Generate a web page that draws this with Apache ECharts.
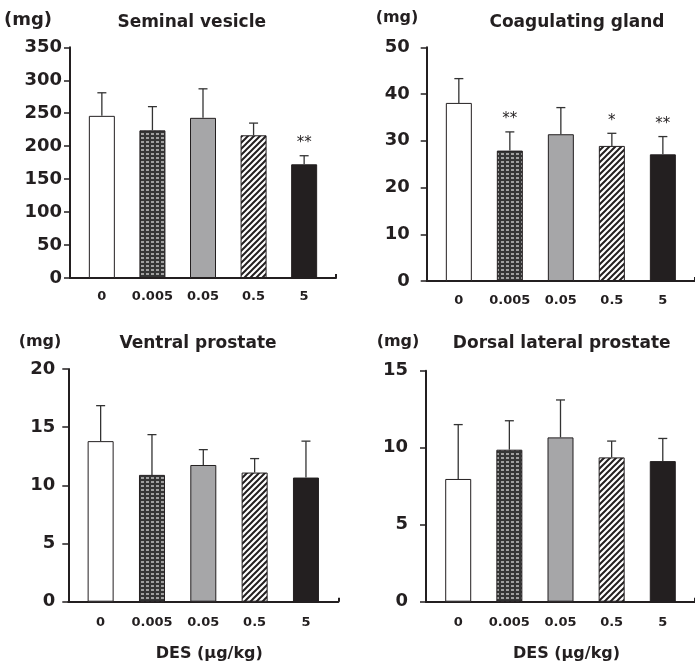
<!DOCTYPE html>
<html><head><meta charset="utf-8">
<script src="https://cdn.jsdelivr.net/npm/echarts@6/dist/echarts.min.js"></script>
<style>html,body{margin:0;padding:0;background:#fff}#c{width:695px;height:668px}</style>
</head><body><div id="c"></div><script>
// ---- data ----
const doses = ['0', '0.005', '0.05', '0.5', '5'];
const svMean = [246, 224, 243, 216.5, 172.5];
const svErr  = [35, 36, 44, 18.5, 13];
const svSig  = ['', '', '', '', '**'];
const cgMean = [38.1, 27.9, 31.4, 28.9, 27.1];
const cgErr  = [5.2, 4.0, 5.7, 2.7, 3.8];
const cgSig  = ['', '**', '', '*', '**'];
const vpMean = [13.8, 10.9, 11.75, 11.1, 10.67];
const vpErr  = [3.05, 3.46, 1.32, 1.2, 3.13];
const vpSig  = ['', '', '', '', ''];
const dlpMean = [7.97, 9.87, 10.67, 9.37, 9.13];
const dlpErr  = [3.53, 1.88, 2.43, 1.06, 1.47];
const dlpSig  = ['', '', '', '', ''];
const yTicks = {sv: [0, 350, 50], cg: [0, 50, 10], vp: [0, 20, 5], dlp: [0, 15, 5]};
const titles = ['Seminal vesicle', 'Coagulating gland', 'Ventral prostate', 'Dorsal lateral prostate'];
const unitLabel = '(mg)';
const xName = 'DES (µg/kg)';

// ---- styles ----
const INK = '#231f20';
const FONT = 'DejaVu Sans';
function dotsPattern() {
  const c = document.createElement('canvas'); c.width = 5; c.height = 4;
  const g = c.getContext('2d');
  g.fillStyle = '#363636'; g.fillRect(0, 0, 5, 4);
  g.fillStyle = '#a0a0a0'; g.fillRect(1, 1, 3, 2);
  return c;
}
function hatchPattern() {
  const s = 6, c = document.createElement('canvas'); c.width = s; c.height = s;
  const g = c.getContext('2d');
  g.fillStyle = '#fff'; g.fillRect(0, 0, s, s);
  g.strokeStyle = INK; g.lineWidth = 2;
  g.beginPath();
  g.moveTo(0, s); g.lineTo(s, 0);
  g.moveTo(-2, 2); g.lineTo(2, -2);
  g.moveTo(s - 2, s + 2); g.lineTo(s + 2, s - 2);
  g.stroke();
  return c;
}
const barFills = ['#ffffff', {image: dotsPattern(), repeat: 'repeat'}, '#a6a6a8', {image: hatchPattern(), repeat: 'repeat'}, INK];

const panels = [
  {mean: svMean, err: svErr, sig: svSig, ticks: yTicks.sv, left: 70, top: 47.3, height: 230.7, width: 266, ylm: 8, xlm: 12, nameGap: 27, namePad: 84, nameSize: 18, titleX: 191.7, titleY: 14, xname: false},
  {mean: cgMean, err: cgErr, sig: cgSig, ticks: yTicks.cg, left: 426.7, top: 47.3, height: 233.7, width: 277, ylm: 17, xlm: 13, nameGap: 29.8, namePad: 59.4, nameSize: 16, titleX: 577, titleY: 14, xname: false},
  {mean: vpMean, err: vpErr, sig: vpSig, ticks: yTicks.vp, left: 68.3, top: 369, height: 232.7, width: 270, ylm: 13, xlm: 14, nameGap: 26.7, namePad: 56.6, nameSize: 16, titleX: 198, titleY: 335, xname: true},
  {mean: dlpMean, err: dlpErr, sig: dlpSig, ticks: yTicks.dlp, left: 426, top: 370.7, height: 231, width: 275, ylm: 18, xlm: 14, nameGap: 28.7, namePad: 56, nameSize: 16, titleX: 561.7, titleY: 335, xname: true}
];

const option = {
  animation: false,
  backgroundColor: '#fff',
  title: panels.map((p, i) => ({
    text: titles[i], left: p.titleX, top: p.titleY, textAlign: 'center', padding: 0,
    textStyle: {fontFamily: FONT, fontWeight: 'bold', fontSize: 17, color: INK}
  })),
  grid: panels.map(p => ({left: p.left, top: p.top, width: p.width, height: p.height, containLabel: false})),
  xAxis: panels.map((p, i) => ({
    type: 'value', gridIndex: i, min: -0.63, max: 4.63,
    splitLine: {show: false},
    axisLine: {show: true, onZero: false, lineStyle: {color: INK, width: 2}},
    axisTick: {show: true, inside: true, length: 4, customValues: [4.63], lineStyle: {color: INK, width: 2}},
    axisLabel: {customValues: [0, 1, 2, 3, 4], formatter: v => doses[Math.round(v)], margin: p.xlm,
      fontFamily: FONT, fontWeight: 'bold', fontSize: 13, color: INK},
    name: p.xname ? xName : '', nameLocation: 'middle', nameGap: 44,
    nameTextStyle: {fontFamily: FONT, fontWeight: 'bold', fontSize: 16, color: INK, padding: [0, 0, 0, 12]}
  })),
  yAxis: panels.map((p, i) => ({
    type: 'value', gridIndex: i, min: p.ticks[0], max: p.ticks[1], interval: p.ticks[2],
    splitLine: {show: false},
    axisLine: {show: true, onZero: false, lineStyle: {color: INK, width: 2}},
    axisTick: {show: true, length: 6, lineStyle: {color: INK, width: 1.5}},
    axisLabel: {margin: p.ylm, fontFamily: FONT, fontWeight: 'bold', fontSize: 18, color: INK},
    name: unitLabel, nameLocation: 'end', nameGap: p.nameGap,
    nameTextStyle: {verticalAlign: 'middle', padding: [0, p.namePad, 0, 0],
      fontFamily: FONT, fontWeight: 'bold', fontSize: p.nameSize, color: INK}
  })),
  series: []
};

panels.forEach((p, i) => {
  option.series.push({
    type: 'bar', xAxisIndex: i, yAxisIndex: i, barWidth: 26,
    data: p.mean.map((v, k) => ({value: [k, v], itemStyle: {color: barFills[k], borderColor: INK, borderWidth: 1}}))
  });
  option.series.push({
    type: 'custom', xAxisIndex: i, yAxisIndex: i, z: 3,
    encode: {x: 0, y: [1, 2]},
    data: p.mean.map((v, k) => [k, v, v + p.err[k]]),
    renderItem: (params, api) => {
      const x = api.value(0), m = api.value(1), u = api.value(2);
      const s = p.sig[params.dataIndex];
      const a = api.coord([x, m]), b = api.coord([x, u]);
      const st = {stroke: '#333', lineWidth: 1.3};
      const children = [
        {type: 'line', shape: {x1: a[0], y1: a[1], x2: b[0], y2: b[1]}, style: st},
        {type: 'line', shape: {x1: b[0] - 4.5, y1: b[1], x2: b[0] + 4.5, y2: b[1]}, style: st}
      ];
      if (s) children.push({type: 'text', style: {text: s, x: b[0], y: b[1] - 12.5, align: 'center', verticalAlign: 'middle',
        fontFamily: FONT, fontSize: 15, fill: INK}});
      return {type: 'group', children};
    }
  });
});

const chart = echarts.init(document.getElementById('c'));
chart.setOption(option);
</script></body></html>
